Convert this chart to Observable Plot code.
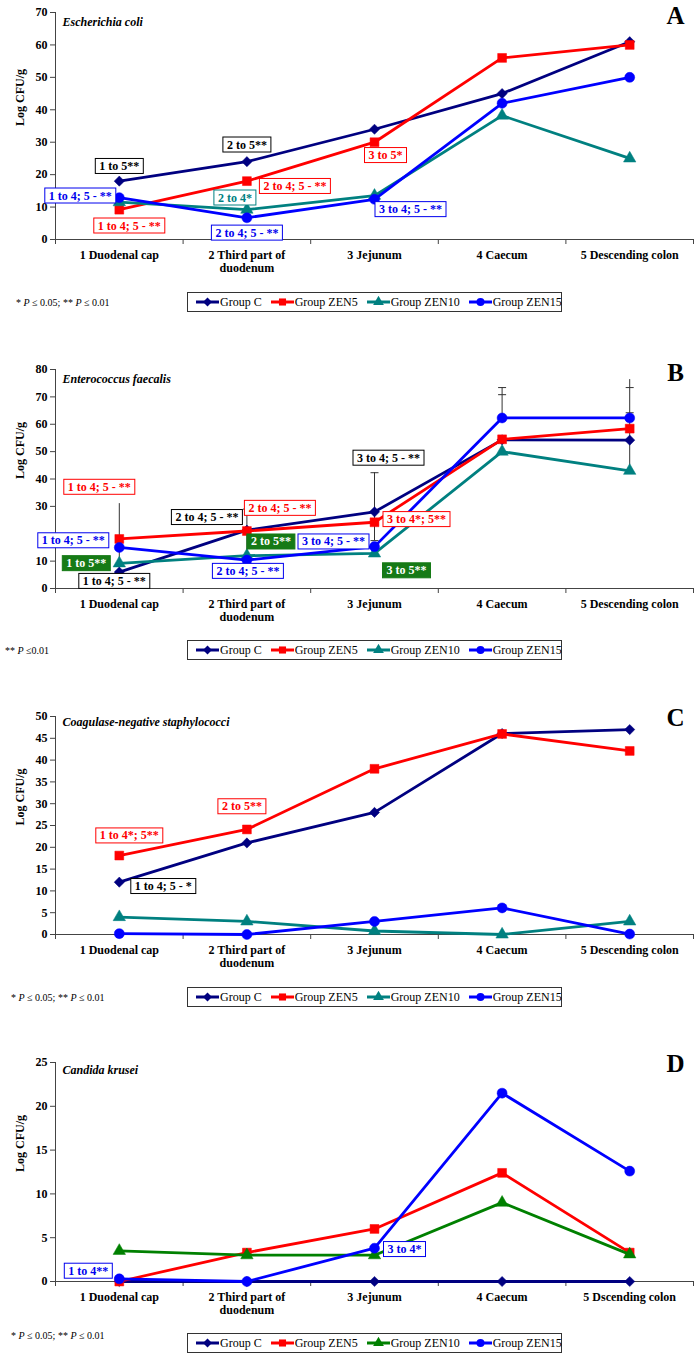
<!DOCTYPE html>
<html>
<head>
<meta charset="utf-8">
<script src="https://cdn.jsdelivr.net/npm/d3@7"></script>
<script src="https://cdn.jsdelivr.net/npm/@observablehq/plot@0.6"></script>
<style>
  html, body { margin: 0; padding: 0; background: #fff; overflow: hidden; }
  #root { position: relative; width: 694px; height: 1359px; font-family: "Liberation Serif", "Times New Roman", serif; color: #000; }
  .panel { position: absolute; left: 0; }
  .legend { position: absolute; left: 187px; width: 375px; height: 20px; border: 1px solid #333; box-sizing: border-box;
            display: flex; align-items: center; padding-left: 8px; font-size: 12px; white-space: nowrap; }
  .legend .item { display: flex; align-items: center; margin-right: 9px; }
  .legend svg { display: block; margin-right: 1px; }
  .foot { position: absolute; font-size: 10px; white-space: nowrap; transform: translateY(-50%); }
</style>
</head>
<body>
<div id="root"></div>
<script>
// ---------------- data ----------------
const categories = ["1 Duodenal cap", "2 Third part of\nduodenum", "3 Jejunum", "4 Caecum", "5 Descending colon"];
const categoriesD = ["1 Duodenal cap", "2 Third part of\nduodenum", "3 Jejunum", "4 Caecum", "5 Dscending colon"];
const groups = ["Group C", "Group ZEN5", "Group ZEN10", "Group ZEN15"];

// A  Escherichia coli
const ecoliC     = [18, 24, 34, 45, 61];
const ecoliZEN5  = [9.2, 18, 30, 56, 60];
const ecoliZEN10 = [11.5, 9.2, 13.5, 38.2, 25];
const ecoliZEN15 = [12.9, 6.7, 12.4, 42, 50];
const ecoliTicks = [0, 10, 20, 30, 40, 50, 60, 70];

// B  Enterococcus faecalis
const entC     = [6, 21.3, 28, 54.3, 54.2];
const entZEN5  = [18.1, 21, 24.2, 54.5, 58.4];
const entZEN10 = [9.2, 12, 12.8, 50, 43];
const entZEN15 = [15, 10.4, 15.3, 62.3, 62.3];
const entTicks = [0, 10, 20, 30, 40, 50, 60, 70, 80];
const entHiddenTickLabels = [20]; // covered by an annotation box in the original
const entErrCat  = [1, 2, 3, 4, 5];
const entErrLow  = [6, 12, 17.5, 62.3, 43];
const entErrHigh = [31, 29, 42.3, 73.4, 76.3];
const entCapCat   = [2, 3, 3, 4, 4, 5, 5];
const entCapValue = [29, 42.3, 17.5, 73.4, 70.8, 73.4, 64.2];

// C  Coagulase-negative staphylococci
const cnsC     = [12, 21, 28, 46.1, 47];
const cnsZEN5  = [18.1, 24.1, 38, 46, 42.1];
const cnsZEN10 = [4, 3, 0.8, 0, 3];
const cnsZEN15 = [0.2, 0, 3, 6.1, 0.1];
const cnsTicks = [0, 5, 10, 15, 20, 25, 30, 35, 40, 45, 50];

// D  Candida krusei
const candC     = [0, 0, 0, 0, 0];
const candZEN5  = [0, 3.3, 6, 12.4, 3.3];
const candZEN10 = [3.5, 3, 3, 9, 3.1];
const candZEN15 = [0.3, 0, 3.8, 21.5, 12.6];
const candTicks = [0, 5, 10, 15, 20, 25];

// significance annotations (label, series, category, colour)
const annotA = [
  {label: "1 to 5**", group: "Group C", cat: 1, color: "black"},
  {label: "2 to 5**", group: "Group C", cat: 2, color: "black"},
  {label: "1 to 4; 5 - **", group: "Group ZEN15", cat: 1, color: "blue"},
  {label: "1 to 4; 5 - **", group: "Group ZEN5", cat: 1, color: "red"},
  {label: "2 to 4*", group: "Group ZEN10", cat: 2, color: "teal"},
  {label: "2 to 4; 5 - **", group: "Group ZEN5", cat: 2, color: "red"},
  {label: "2 to 4; 5 - **", group: "Group ZEN15", cat: 2, color: "blue"},
  {label: "3 to 5*", group: "Group ZEN5", cat: 3, color: "red"},
  {label: "3 to 4; 5 - **", group: "Group ZEN15", cat: 3, color: "blue"}
];
const annotB = [
  {label: "1 to 4; 5 - **", group: "Group ZEN5", cat: 1, color: "red"},
  {label: "2 to 4; 5 - **", group: "Group C", cat: 2, color: "black"},
  {label: "2 to 4; 5 - **", group: "Group ZEN5", cat: 2, color: "red"},
  {label: "3 to 4; 5 - **", group: "Group C", cat: 3, color: "black"},
  {label: "3 to 4*; 5**", group: "Group ZEN5", cat: 3, color: "red"},
  {label: "1 to 4; 5 - **", group: "Group ZEN15", cat: 1, color: "blue"},
  {label: "1 to 5**", group: "Group ZEN10", cat: 1, color: "filled"},
  {label: "1 to 4; 5 - **", group: "Group C", cat: 1, color: "black"},
  {label: "2 to 5**", group: "Group ZEN10", cat: 2, color: "filled"},
  {label: "2 to 4; 5 - **", group: "Group ZEN15", cat: 2, color: "blue"},
  {label: "3 to 4; 5 - **", group: "Group ZEN15", cat: 3, color: "blue"},
  {label: "3 to 5**", group: "Group ZEN10", cat: 3, color: "filled"}
];
const annotC = [
  {label: "1 to 4*; 5**", group: "Group ZEN5", cat: 1, color: "red"},
  {label: "2 to 5**", group: "Group ZEN5", cat: 2, color: "red"},
  {label: "1 to 4; 5 - *", group: "Group C", cat: 1, color: "black"}
];
const annotD = [
  {label: "1 to 4**", group: "Group ZEN15", cat: 1, color: "blue"},
  {label: "3 to 4*", group: "Group ZEN15", cat: 3, color: "blue"}
];

// ---------------- layout / style ----------------
const offsetsA = [[0, -15], [0, -17], [-39, -2], [10, 16], [-12, -12], [48, 5], [0, 15], [11, 13], [36, 10]];
const offsetsB = [[-20, -52], [-40, -13], [33, -23], [14, -54], [42, -3], [-46, -7], [-33, 0], [-5, 9], [24, -14], [1, 11], [-41, -5], [32, 17]];
const offsetsC = [[10, -20], [-5, -23], [44, 4]];
const offsetsD = [[-31, -8], [30, 1]];

const NAVY = "#000080", RED = "#ff0000", TEAL = "#008080", BLUE = "#0000ff", GREEN = "#008000", BOXGREEN = "#167a16";
const textColors = {black: "#000", red: "#ff0000", blue: "#0000ee", teal: "#008080", filled: "white"};
const axisColor = "#444";
const FONT = "'Liberation Serif', 'Times New Roman', serif";

const symbolsBy = {"Group C": "diamond2", "Group ZEN5": "square", "Group ZEN10": "triangle", "Group ZEN15": "circle"};
const symbolSize = {"Group C": 4.6, "Group ZEN5": 5, "Group ZEN10": 4.6, "Group ZEN15": 5};
const capSymbol = {draw(ctx) { ctx.moveTo(-4, 0); ctx.lineTo(4, 0); }};

const root = document.getElementById("root");

function makePanel(cfg) {
  const seriesVals = {};
  cfg.series.forEach((vals, i) => seriesVals[groups[i]] = vals);
  const rows = groups.flatMap((g, gi) => cfg.series[gi].map((v, i) => ({group: g, cat: i + 1, value: v})));
  const nCat = cfg.cats.length;
  const boundaries = d3.range(nCat + 1).map(i => i + 0.5);
  const centers = d3.range(1, nCat + 1);
  const hidden = cfg.hiddenTickLabels || [];

  const marks = [
    Plot.ruleY([0], {stroke: axisColor, strokeWidth: 1}),
    Plot.ruleX([0.5], {stroke: axisColor, strokeWidth: 1}),
    Plot.axisY({ticks: cfg.ticks, tickSize: 5, tickPadding: 3, tickFormat: d => hidden.includes(d) ? "" : String(d), label: null,
                fontSize: 12, fontWeight: "bold", stroke: axisColor}),
    Plot.axisX({ticks: boundaries, tickSize: 5, tickFormat: () => "", label: null, stroke: axisColor}),
    Plot.axisX({ticks: centers, tickSize: 0, tickPadding: 10, tickFormat: i => cfg.cats[i - 1], label: null,
                fontSize: 12, fontWeight: "bold", lineHeight: 1.1}),
    Plot.text(["Log CFU/g"], {text: d => d, frameAnchor: "left", dx: -35, rotate: -90, fontSize: 12, fontWeight: "bold"}),
    Plot.text([cfg.title], {text: d => d, frameAnchor: "top-left", dx: 7, dy: cfg.titleDy, textAnchor: "start",
                lineAnchor: "middle", fontSize: 12, fontWeight: "bold", fontStyle: "italic"}),
    Plot.text([cfg.letter], {text: d => d, frameAnchor: "top-right", dx: -18, dy: cfg.letterDy, textAnchor: "middle",
                lineAnchor: "middle", fontSize: 25, fontWeight: "bold"})
  ];

  if (cfg.errLow) {
    const err = cfg.errCat.map((c, i) => ({cat: c, lo: cfg.errLow[i], hi: cfg.errHigh[i]}));
    const caps = cfg.capCat.map((c, i) => ({cat: c, v: cfg.capValue[i]}));
    marks.push(Plot.ruleX(err, {x: "cat", y1: "lo", y2: "hi", stroke: "#333", strokeWidth: 1}));
    marks.push(Plot.dot(caps, {x: "cat", y: "v", symbol: capSymbol, r: 4, stroke: "#333", fill: "none", strokeWidth: 1}));
  }

  groups.forEach((g, gi) => {
    const data = rows.filter(d => d.group === g);
    marks.push(Plot.line(data, {x: "cat", y: "value", stroke: cfg.colors[gi], strokeWidth: 2.8}));
    marks.push(Plot.dot(data, {x: "cat", y: "value", symbol: symbolsBy[g], r: symbolSize[g],
                               fill: cfg.colors[gi], stroke: cfg.colors[gi], strokeWidth: 0.5}));
  });

  cfg.annot.forEach((a, i) => {
    const o = cfg.offsets[i];
    const v = seriesVals[a.group][a.cat - 1];
    marks.push(Plot.text([{cat: a.cat, value: v, label: a.label}], {
      x: "cat", y: "value", text: "label", dx: o[0], dy: o[1],
      fill: textColors[a.color], fontSize: 12, fontWeight: "bold"
    }));
  });

  const svg = Plot.plot({
    width: 694,
    height: cfg.height,
    marginTop: cfg.marginTop,
    marginBottom: 40,
    marginLeft: 55,
    marginRight: 1,
    x: {type: "linear", domain: [0.5, nCat + 0.5]},
    y: {type: "linear", domain: [0, cfg.yMax]},
    style: {fontFamily: FONT, fontSize: "12px", background: "transparent", overflow: "visible", color: "#000"},
    marks
  });

  const wrap = document.createElement("div");
  wrap.className = "panel";
  wrap.style.top = cfg.top + "px";
  wrap.appendChild(svg);
  root.appendChild(wrap);

  // boxes behind annotation labels
  const labels = new Set(cfg.annot.map(a => a.label));
  const NS = "http://www.w3.org/2000/svg";
  svg.querySelectorAll("text").forEach(t => {
    if (!labels.has(t.textContent)) return;
    const b = t.getBBox();
    let el = t, fill = null;
    while (el && el !== svg && !(fill = el.getAttribute && el.getAttribute("fill"))) el = el.parentNode;
    const filled = fill === "white";
    const r = document.createElementNS(NS, "rect");
    r.setAttribute("x", b.x - 4);
    r.setAttribute("y", b.y - 0.5);
    r.setAttribute("width", b.width + 8);
    r.setAttribute("height", b.height + 1);
    const tr = t.getAttribute("transform");
    if (tr) r.setAttribute("transform", tr);
    r.setAttribute("fill", filled ? BOXGREEN : "white");
    r.setAttribute("stroke", filled ? BOXGREEN : (fill || "black"));
    r.setAttribute("stroke-width", 1);
    t.parentNode.insertBefore(r, t);
  });

  // legend
  const lg = document.createElement("div");
  lg.className = "legend";
  lg.style.top = cfg.legendTop + "px";
  groups.forEach((g, gi) => {
    const item = document.createElement("span");
    item.className = "item";
    const s = d3.create("svg").attr("width", 23).attr("height", 12);
    s.append("line").attr("x1", 0).attr("x2", 23).attr("y1", 6).attr("y2", 6)
      .attr("stroke", cfg.colors[gi]).attr("stroke-width", 3);
    const symType = {"diamond2": d3.symbolDiamond2, "square": d3.symbolSquare, "triangle": d3.symbolTriangle, "circle": d3.symbolCircle}[symbolsBy[g]];
    s.append("path").attr("transform", "translate(11.5,6)")
      .attr("d", d3.symbol(symType, Math.PI * 4 * 4)()).attr("fill", cfg.colors[gi]);
    item.appendChild(s.node());
    const tx = document.createElement("span");
    tx.textContent = g;
    item.appendChild(tx);
    lg.appendChild(item);
  });
  root.appendChild(lg);

  // footnote
  const ft = document.createElement("div");
  ft.className = "foot";
  ft.style.left = cfg.footLeft + "px";
  ft.style.top = cfg.footTop + "px";
  ft.innerHTML = cfg.foot;
  root.appendChild(ft);
}

const footBoth = "* <i>P</i> \u2264 0.05; ** <i>P</i> \u2264 0.01";

makePanel({top: 0, height: 279, marginTop: 12, yMax: 70, ticks: ecoliTicks, cats: categories,
  series: [ecoliC, ecoliZEN5, ecoliZEN10, ecoliZEN15], colors: [NAVY, RED, TEAL, BLUE],
  title: "Escherichia coli", titleDy: 10, letter: "A", letterDy: 3,
  annot: annotA, offsets: offsetsA, legendTop: 292, foot: footBoth, footLeft: 16, footTop: 302});

makePanel({top: 330, height: 298, marginTop: 39, yMax: 80, ticks: entTicks, hiddenTickLabels: entHiddenTickLabels, cats: categories,
  series: [entC, entZEN5, entZEN10, entZEN15], colors: [NAVY, RED, TEAL, BLUE],
  title: "Enterococcus faecalis", titleDy: 10, letter: "B", letterDy: 3,
  errCat: entErrCat, errLow: entErrLow, errHigh: entErrHigh, capCat: entCapCat, capValue: entCapValue,
  annot: annotB, offsets: offsetsB, legendTop: 640, foot: "** <i>P</i> \u22640.01", footLeft: 5, footTop: 650});

makePanel({top: 680, height: 294, marginTop: 36, yMax: 50, ticks: cnsTicks, cats: categories,
  series: [cnsC, cnsZEN5, cnsZEN10, cnsZEN15], colors: [NAVY, RED, TEAL, BLUE],
  title: "Coagulase-negative staphylococci", titleDy: 6, letter: "C", letterDy: 1,
  annot: annotC, offsets: offsetsC, legendTop: 987, foot: footBoth, footLeft: 11, footTop: 997});

makePanel({top: 1020, height: 301, marginTop: 42, yMax: 25, ticks: candTicks, cats: categoriesD,
  series: [candC, candZEN5, candZEN10, candZEN15], colors: [NAVY, RED, GREEN, BLUE],
  title: "Candida krusei", titleDy: 8, letter: "D", letterDy: 1,
  annot: annotD, offsets: offsetsD, legendTop: 1333, foot: footBoth, footLeft: 11, footTop: 1335});
</script>
</body>
</html>
